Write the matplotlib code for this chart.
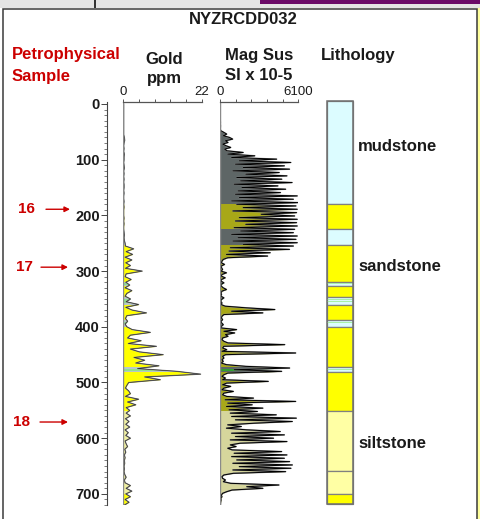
import numpy as np
import matplotlib
matplotlib.use("Agg")
import matplotlib.pyplot as plt
from matplotlib.patches import Rectangle
from matplotlib.transforms import blended_transform_factory

W, H, DPI = 481, 519, 100

well_name = "NYZRCDD032"

# Gold assay log (ppm), one value every 5 m from 0 m
gold_step = 5.0
gold_ppm = [
    0.1, 0.1, 0.1, 0.1, 0.1, 0.1, 0.1, 0.1, 0.1, 0.1, 0.1, 0.1, 0.3, 0.4, 0.2, 0.1,
    0.2, 0.1, 0.3, 0.2, 0.2, 0.1, 0.2, 0.3, 0.1, 0.2, 0.1, 0.2, 0.1, 0.2, 0.2, 0.1,
    0.2, 0.1, 0.1, 0.2, 0.1, 0.2, 0.1, 0.1, 0.1, 0.2, 0.1, 0.2, 0.1, 0.1, 0.2, 0.3,
    0.2,
    0.3, 0.5, 0.6, 2.9, 0.8, 2.6, 0.5, 2.4, 0.7, 2.0, 0.6, 5.3, 0.8, 0.5, 2.2, 0.7,
    1.8, 0.5, 2.4, 1.0, 0.5, 2.0, 0.8, 4.3, 0.7, 2.5, 6.5, 1.0, 0.6, 1.2, 0.5, 1.0,
    2.5, 7.6, 2.0, 1.2, 5.0, 1.4, 9.3, 2.0, 4.5, 11.2, 3.0, 6.0, 3.5, 10.0, 4.0, 15.1,
    21.7, 6.0, 10.4, 1.5, 1.0, 0.6, 1.5, 2.0, 0.6, 4.3, 1.2, 3.5, 0.8, 1.8, 0.8, 2.0,
    0.6, 1.6, 0.7, 1.8, 0.5, 1.4, 0.7, 2.0, 0.5, 0.8, 1.2, 0.4, 0.7, 0.3, 0.5, 0.3,
    0.4, 0.2, 0.3, 0.2, 0.4, 0.8, 0.3, 0.5, 2.0, 0.8, 2.4, 0.7, 2.0, 0.5, 1.6, 0.3,
]

# Magnetic susceptibility log (SI x 10-5), one value every 3 m from 0 m
mag_step = 3.0
mag_sus = [
    20, 20, 20, 20, 20, 20, 20, 20, 20, 20, 20, 30, 20, 40, 30, 20, 60,
    300, 520, 260, 730, 980, 420, 620, 210, 470, 830, 360, 520,
    1800, 600, 2700, 900, 4400, 1500, 5500, 1200, 5000, 1800, 5400, 1000, 4600, 2000,
    5200, 1300, 4800, 1600, 5600, 1100, 4500, 1700, 5100, 1400, 4700, 1200, 6000, 1500,
    5700, 900, 6050, 1300, 5900, 1800, 6000, 1000, 5950, 3200, 5800, 1500, 6000, 1200,
    5950, 2000, 6000, 1100, 5800, 1600, 5700, 900, 6000, 1400, 5900, 1000, 6000, 1800,
    5700, 800, 5400, 700, 3900, 500, 3700,
    600, 250, 150, 100, 350, 80, 120, 200, 60, 500, 150, 90, 400, 120, 80, 300, 60, 100,
    250, 500, 150, 80, 120, 60, 300, 100, 50, 150, 80, 400,
    2080, 4260, 900, 3330,
    300, 150, 100, 200, 80, 120, 250, 100, 60,
    1290, 300, 1140, 420, 620,
    200, 150, 300, 620, 5030, 300,
    200, 520, 150, 5880, 420,
    200, 300, 150, 250, 100,
    500, 2000, 5410, 1100, 4790, 600,
    300, 150, 420, 200, 3750,
    520, 200, 830, 300, 150,
    1040, 300, 200, 520,
    2600, 400, 5880, 600, 2500, 500, 3330, 700, 2910, 800, 4370, 900, 5930, 1200,
    5620, 2700, 600, 1660, 500, 2080, 4680, 900, 5000, 1200, 4160, 800, 5200, 1560,
    800, 1250, 600, 940, 4790, 1100, 5200, 900, 5000, 1300, 5410, 1000, 5620, 1500,
    5510, 1000, 5100, 1040,
    300, 150, 200, 420, 260, 830,
    4580, 2080, 3330, 940, 520,
    200, 100, 150, 60, 80, 50, 40, 30,
]

# Lithology intervals (m)
lith_tops = [-6, 180, 225, 254, 319, 326, 347, 360, 388, 400, 472, 482, 552, 659, 700]
lith_bases = [180, 225, 254, 319, 326, 347, 360, 388, 400, 472, 482, 552, 659, 700, 719]
lith_types = ["mudstone", "sandstone", "mudstone", "sandstone", "mudstone", "sandstone",
              "mudstone", "sandstone", "mudstone", "sandstone", "mudstone", "sandstone",
              "siltstone", "siltstone", "sandstone"]
# thin green beds inside the mudstone partings
bed_tops = [321.5, 350.0, 354.0, 391.5, 476.0]
bed_bases = [323.0, 351.5, 355.5, 393.5, 478.0]

lith_labels = ["mudstone", "sandstone", "siltstone"]
lith_label_depths = [84, 299, 617]

sample_ids = ["16", "17", "18"]
sample_depths = [189, 293, 571]

gold_max = 22
mag_max = 6100
depth_major = list(range(0, 701, 100))
depth_minor = list(range(0, 721, 10))

lith_color = {"mudstone": "#dcfcff", "sandstone": "#ffff00", "siltstone": "#ffffa4",
              "bed": "#a8f0a8"}
gold_color = {"mudstone": "#b8c8c8", "sandstone": "#ffff00", "siltstone": "#f0f0a0",
              "bed": "#90e090"}
mag_color = {"mudstone": "#5e6666", "sandstone": "#a8a818", "siltstone": "#d6d69c",
             "bed": "#30a030"}

RED = "#cc0000"
FONT = "Liberation Sans"
plt.rcParams["font.family"] = [FONT, "DejaVu Sans"]

fig = plt.figure(figsize=(W / DPI, H / DPI), dpi=DPI, facecolor="white")

# ---- page background / frame (pixel coordinates) ----
bg = fig.add_axes([0, 0, 1, 1], zorder=0)
bg.set_xlim(0, W)
bg.set_ylim(H, 0)
bg.axis("off")
bg.add_patch(Rectangle((0, 0), W, 8, color="#e4e4e4", lw=0))
strip = np.array([[[0.23, 0.63, 0.75], [0.09, 0.28, 0.78], [0.05, 0.17, 0.66],
                   [0.12, 0.35, 0.85], [0.19, 0.44, 0.88], [0.63, 0.75, 0.94]]])
bg.imshow(strip, extent=(0, 94, 8, 0), aspect="auto", interpolation="bilinear")
bg.add_patch(Rectangle((94, 0), 2, 8, color="#333333", lw=0))
bg.add_patch(Rectangle((260, 0), W - 260, 4, color="#6b0a68", lw=0))
bg.add_patch(Rectangle((477.5, 8), 4, H, color="#ffff9c", lw=0))
bg.add_patch(Rectangle((3, 8.5), 474, H, facecolor="white", edgecolor="#3a3a3a", lw=1.1))
bg.set_xlim(0, W)
bg.set_ylim(H, 0)

# headings
bold = dict(fontfamily=[FONT, "DejaVu Sans"], fontweight="bold", fontsize=12)
bg.text(243, 24, well_name, ha="center", va="baseline", color="#1a1a1a", **bold)
bg.text(12, 59.5, "Petrophysical", ha="left", va="baseline", color=RED, **bold)
bg.text(12, 80.5, "Sample", ha="left", va="baseline", color=RED, **bold)
bg.text(164, 64, "Gold", ha="center", va="baseline", color="#1a1a1a", **bold)
bg.text(164, 82.5, "ppm", ha="center", va="baseline", color="#1a1a1a", **bold)
bg.text(225.5, 60, "Mag Sus", ha="left", va="baseline", color="#1a1a1a", **bold)
bg.text(225.5, 80.5, "SI x 10-5", ha="left", va="baseline", color="#1a1a1a", **bold)
bg.text(320.5, 60, "Lithology", ha="left", va="baseline", color="#1a1a1a", **bold)


def px_axes(x0, y0, x1, y1, **kw):
    return fig.add_axes([x0 / W, 1 - y1 / H, (x1 - x0) / W, (y1 - y0) / H], **kw)


Y_TOP, Y_BOT = 102, 505
D_TOP, D_BOT = -3.59, 719.9


def track(x0, x1, xmax):
    ax = px_axes(x0, Y_TOP, x1, Y_BOT, zorder=2)
    ax.set_facecolor("none")
    ax.set_xlim(0, xmax)
    ax.set_ylim(D_BOT, D_TOP)
    for s in ("left", "right", "bottom"):
        ax.spines[s].set_visible(False)
    ax.spines["top"].set_color("#555555")
    ax.spines["top"].set_linewidth(0.9)
    ax.yaxis.set_visible(False)
    ax.xaxis.tick_top()
    ticks = np.linspace(0, xmax, 6)
    ax.set_xticks(ticks)
    ax.set_xticklabels(["0"] + [""] * 4 + [f"{xmax}"])
    ax.tick_params(axis="x", direction="out", length=2.2, width=0.7, color="#555555",
                   pad=1.0, labelsize=9.5, labelcolor="#1a1a1a")
    return ax


def shade(ax, depth, values, xmax, palette):
    intervals = list(zip(lith_tops, lith_bases, lith_types)) + \
        [(t, b, "bed") for t, b in zip(bed_tops, bed_bases)]
    for top, base, kind in intervals:
        poly = ax.fill_betweenx(depth, 0, values, color=palette[kind], lw=0)
        poly.set_clip_path(Rectangle((0, top), xmax, base - top, transform=ax.transData))


# ---- gold track ----
gold = np.array(gold_ppm)
gold_depth = np.arange(len(gold)) * gold_step
ax_g = track(123.3, 201.7, gold_max)
shade(ax_g, gold_depth, gold, gold_max, gold_color)
ax_g.plot(gold, gold_depth, color="#8a8a8a", lw=0.9)
ax_g.plot(gold, gold_depth, color="#303030", lw=0.45)
ax_g.axvline(0, color="#8a8a8a", lw=1.0)

# ---- magnetic susceptibility track ----
mag = np.array(mag_sus, dtype=float)
mag_depth = np.arange(len(mag)) * mag_step
ax_m = track(220, 298.5, mag_max)
shade(ax_m, mag_depth, mag, mag_max, mag_color)
ax_m.plot(mag, mag_depth, color="#8a8a8a", lw=1.1)
ax_m.plot(mag, mag_depth, color="black", lw=0.7)
ax_m.axvline(0, color="#8a8a8a", lw=1.0)

# ---- depth axis ----
ax_d = px_axes(107, Y_TOP, 108, Y_BOT, zorder=2)
ax_d.set_facecolor("none")
ax_d.set_ylim(D_BOT, D_TOP)
ax_d.xaxis.set_visible(False)
for s in ("top", "right", "bottom"):
    ax_d.spines[s].set_visible(False)
ax_d.spines["left"].set_color("#444444")
ax_d.spines["left"].set_linewidth(0.8)
ax_d.set_yticks(depth_major)
ax_d.set_yticks(depth_minor, minor=True)
ax_d.set_yticklabels([str(d) for d in depth_major], fontweight="bold", fontsize=10.5,
                     color="#1a1a1a")
ax_d.tick_params(axis="y", which="major", direction="out", length=4.3, width=0.7,
                 color="#444444", pad=0.8)
ax_d.tick_params(axis="y", which="minor", direction="out", length=2.4, width=0.6,
                 color="#666666")

# petrophysical sample markers
trans_s = blended_transform_factory(bg.transData, ax_d.transData)
arrow_x = [(46, 70), (41, 68), (40, 68)]
label_x = [26, 24, 22]
for sid, d, (xa, xb), xl in zip(sample_ids, sample_depths, arrow_x, label_x):
    bg.annotate("", xy=(xb, d), xytext=(xa, d), xycoords=trans_s, textcoords=trans_s,
                arrowprops=dict(arrowstyle="-|>", color=RED, lw=1.0, mutation_scale=8,
                                shrinkA=0, shrinkB=0))
    bg.text(xl, d, sid, transform=trans_s, ha="center", va="center", color=RED,
            fontweight="bold", fontsize=11)

# ---- lithology column ----
ax_l = px_axes(326.7, Y_TOP, 352.7, Y_BOT, zorder=2)
ax_l.set_facecolor("none")
ax_l.set_xlim(0, 1)
ax_l.set_ylim(D_BOT, D_TOP)
ax_l.axis("off")
for top, base, kind in zip(lith_tops, lith_bases, lith_types):
    ax_l.add_patch(Rectangle((0, top), 1, base - top, facecolor=lith_color[kind],
                             edgecolor="#808080", lw=0.9, clip_on=False))
for top, base in zip(bed_tops, bed_bases):
    ax_l.add_patch(Rectangle((0, top), 1, base - top, facecolor=lith_color["bed"],
                             edgecolor="none", lw=0, clip_on=False))
ax_l.add_patch(Rectangle((0, lith_tops[0]), 1, lith_bases[-1] - lith_tops[0],
                         facecolor="none", edgecolor="#707070", lw=1.1, clip_on=False))

trans_l = blended_transform_factory(bg.transData, ax_l.transData)
for name, d in zip(lith_labels, lith_label_depths):
    bg.text(358, d, name, transform=trans_l, ha="left", va="baseline", color="#1a1a1a",
            **bold)

fig.savefig("out.png", dpi=DPI, facecolor="white")
